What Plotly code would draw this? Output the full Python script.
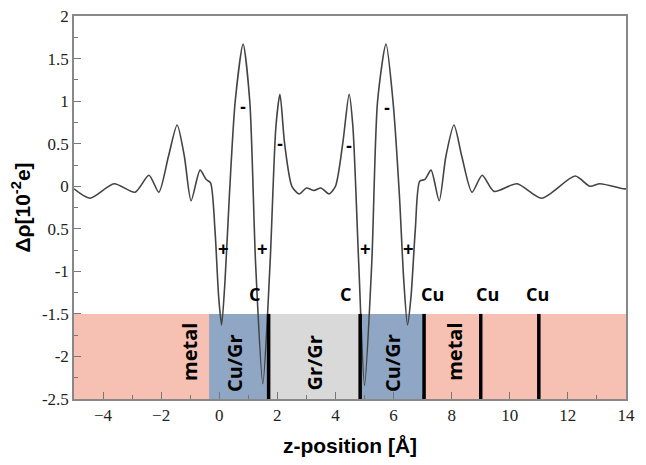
import plotly.graph_objects as go

z = [-5,-4.45,-3.62,-2.9,-2.42,-2.08,-1.75,-1.45,-1.2,-0.97,-0.66,-0.45,-0.3,-0.15,-0.02,0.08,0.2,0.35,0.55,0.82,1.05,1.25,1.5,1.75,1.95,2.09,2.25,2.5,2.75,3.0,3.26,
     3.5,3.78,4.0,4.25,4.47,4.6,4.8,5.0,5.25,5.45,5.74,5.98,6.2,6.35,6.48,6.6,6.75,6.9,7.08,7.29,7.57,7.8,8.08,8.35,8.7,9.05,9.46,10.25,11.1,12.25,12.76,13.1,13.93,14]
drho = [-0.03,-0.14,0.03,-0.07,0.13,-0.07,0.35,0.72,0.35,-0.17,0.19,0.08,0.04,-0.5,-1.3,-1.63,-1.1,-0.1,1.0,1.67,1.0,-0.9,-2.32,-0.9,0.7,1.08,0.5,0.0,-0.09,-0.02,-0.05,
        -0.02,-0.09,0.0,0.5,1.08,0.7,-0.9,-2.34,-0.9,1.0,1.67,1.0,-0.1,-1.1,-1.63,-1.3,-0.5,0.06,0.08,0.19,-0.17,0.35,0.72,0.35,-0.07,0.13,-0.06,0.03,-0.14,0.12,0.0,0.03,-0.03,-0.03]

region_x0 = [-5, -0.35, 1.7, 4.85, 7.05]
region_x1 = [14, 1.7, 4.85, 7.05, 14]
region_colors = ["rgb(246,192,178)", "rgb(143,166,196)", "rgb(217,217,217)", "rgb(143,166,196)", "rgb(246,192,178)"]
band_bottom, band_top = -2.5, -1.5
layer_lines = [1.7, 4.85, 7.05, 9.0, 11.0]

region_labels = ["metal", "Cu/Gr", "Gr/Gr", "Cu/Gr", "metal"]
region_label_x = [-1.05, 0.5, 3.27, 5.97, 8.1]
region_label_y = [-1.95, -2.08, -2.08, -2.08, -1.95]

atom_labels = ["C", "C", "Cu", "Cu", "Cu"]
atom_x = [1.2, 4.34, 7.35, 9.25, 10.95]
atom_y = -1.27

sign_text = ["-", "-", "-", "-", "+", "+", "+", "+"]
sign_x = [0.82, 2.09, 4.47, 5.77, 0.13, 1.5, 5.05, 6.5]
sign_y = [0.93, 0.5, 0.47, 0.92, -0.74, -0.74, -0.74, -0.74]

yticks = [2, 1.5, 1, 0.5, 0, -0.5, -1, -1.5, -2, -2.5]
yticklabels = ["2", "1.5", "1", "0.5", "0", "0.5", "-1", "-1.5", "-2", "-2.5"]
xticks = [-4, -2, 0, 2, 4, 6, 8, 10, 12, 14]

fig = go.Figure()
for x0, x1, c in zip(region_x0, region_x1, region_colors):
    fig.add_shape(type="rect", x0=x0, x1=x1, y0=band_bottom, y1=band_top, fillcolor=c, line_width=0, layer="below")
for xl in layer_lines:
    fig.add_shape(type="line", x0=xl, x1=xl, y0=band_bottom, y1=band_top, line=dict(color="black", width=3.5))

fig.add_trace(go.Scatter(x=z, y=drho, mode="lines", line=dict(color="#444", width=1.6, shape="spline", smoothing=0.7), showlegend=False))

for t, x, y in zip(region_labels, region_label_x, region_label_y):
    fig.add_annotation(x=x, y=y, text=f"<b>{t}</b>", textangle=-90, showarrow=False, font=dict(family="Open Sans", size=20, color="black"))
for t, x in zip(atom_labels, atom_x):
    fig.add_annotation(x=x, y=atom_y, text=f"<b>{t}</b>", showarrow=False, font=dict(family="Open Sans", size=18, color="black"))
for t, x, y in zip(sign_text, sign_x, sign_y):
    fig.add_annotation(x=x, y=y, text=f"<b>{t}</b>", showarrow=False, font=dict(family="Liberation Sans", size=18, color="black"))

tickfont = dict(family="Liberation Serif", size=17, color="#222")
fig.update_xaxes(range=[-5, 14.001], tickvals=xticks, ticks="inside", ticklen=7, tickcolor="#777",
                 minor=dict(ticks="inside", dtick=1, ticklen=4, tickcolor="#777"),
                 showgrid=False, zeroline=False, showline=True, linecolor="#888", linewidth=1.5, mirror=True,
                 tickfont=tickfont, automargin=False, ticklabeloverflow="allow",
                 title=dict(text="<b>z-position [Å]</b>", font=dict(family="Liberation Sans", size=21, color="black"), standoff=14))
fig.update_yaxes(range=[-2.5, 2.001], tickvals=yticks, ticktext=yticklabels, ticks="inside", ticklen=7, tickcolor="#777",
                 minor=dict(ticks="inside", dtick=0.25, ticklen=4, tickcolor="#777"),
                 showgrid=False, zeroline=False, showline=True, linecolor="#888", linewidth=1.5, mirror=True,
                 tickfont=tickfont, automargin=False, ticklabeloverflow="allow",
                 title=dict(text="<b>Δρ[10<sup>-2</sup>e]</b>", font=dict(family="Liberation Sans", size=21, color="black"), standoff=6))
fig.update_layout(width=635, height=458, margin=dict(l=66, r=17, t=8, b=67),
                  plot_bgcolor="white", paper_bgcolor="white")
fig.write_html("out.html")
